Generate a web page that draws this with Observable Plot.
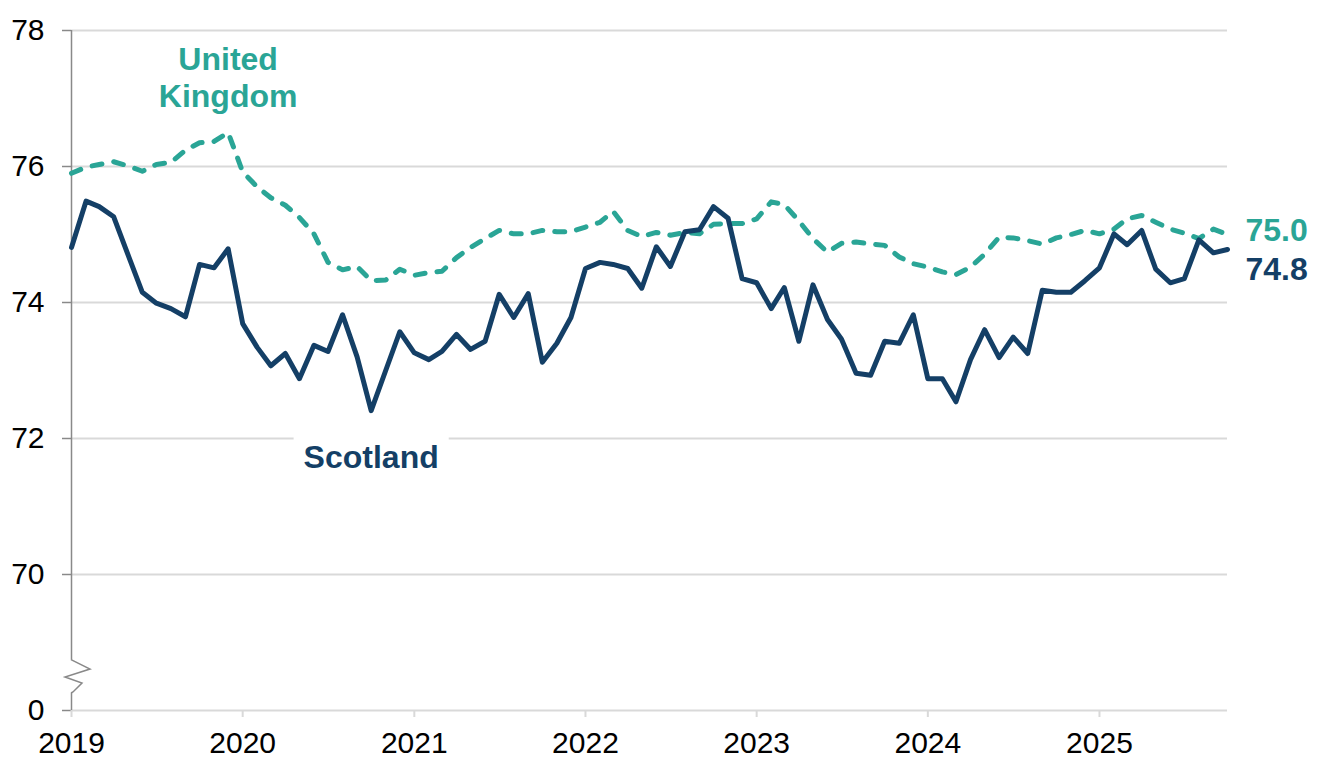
<!DOCTYPE html>
<html>
<head>
<meta charset="utf-8">
<script src="https://cdn.jsdelivr.net/npm/d3@7"></script>
<script src="https://cdn.jsdelivr.net/npm/@observablehq/plot@0.6"></script>
<style>
  html, body { margin: 0; padding: 0; background: #fff; }
  #chart svg { display: block; }
</style>
</head>
<body>
<div id="chart"></div>
<script>
// ---- Data (employment rate, %, monthly rolling figures Jan 2019 – Oct 2025) ----
const startMonth = "2019-01-01";
const endMonth = "2025-10-01";
const scotland = [
  74.81, 75.49, 75.41, 75.26, 74.71, 74.15, 73.99, 73.91, 73.79, 74.56, 74.51, 74.79,
  73.69, 73.34, 73.07, 73.25, 72.88, 73.37, 73.28, 73.82, 73.20, 72.41, 73.00, 73.57,
  73.26, 73.16, 73.28, 73.53, 73.31, 73.43, 74.12, 73.78, 74.13, 73.12, 73.40, 73.78,
  74.50, 74.59, 74.56, 74.50, 74.21, 74.82, 74.53, 75.04, 75.07, 75.41, 75.24, 74.35,
  74.29, 73.91, 74.22, 73.43, 74.26, 73.75, 73.46, 72.96, 72.93, 73.43, 73.40, 73.82,
  72.88, 72.88, 72.54, 73.16, 73.60, 73.19, 73.49, 73.25, 74.18, 74.15, 74.15, 74.32,
  74.51, 75.01, 74.85, 75.06, 74.49, 74.29, 74.35, 74.92, 74.73, 74.78
];
const unitedKingdom = [
  75.90, 75.99, 76.03, 76.07, 76.01, 75.93, 76.03, 76.06, 76.24, 76.35, 76.37, 76.50,
  75.92, 75.70, 75.54, 75.43, 75.25, 75.01, 74.59, 74.48, 74.53, 74.32, 74.33, 74.49,
  74.40, 74.44, 74.46, 74.66, 74.81, 74.94, 75.06, 75.01, 75.01, 75.06, 75.04, 75.04,
  75.11, 75.18, 75.34, 75.06, 74.97, 75.03, 74.99, 75.03, 75.01, 75.15, 75.16, 75.16,
  75.23, 75.48, 75.44, 75.20, 74.94, 74.74, 74.87, 74.89, 74.86, 74.84, 74.67, 74.57,
  74.52, 74.45, 74.41, 74.52, 74.71, 74.96, 74.95, 74.91, 74.86, 74.95, 75.00, 75.06,
  75.01, 75.08, 75.23, 75.28, 75.18, 75.08, 75.02, 74.94, 75.08, 75.00
];
const yearTicks = ["2019", "2020", "2021", "2022", "2023", "2024", "2025"];
const yTicks = [68, 70, 72, 74, 76, 78];
const yTickLabels = ["0", "70", "72", "74", "76", "78"];
const axisBreak = [68.25, 68.74];   // value range of the broken section of the y axis
const seriesLabels = [
  {series: "United Kingdom", text: "United\nKingdom", date: "2019-12-01", value: 77.32},
  {series: "Scotland", text: "Scotland", date: "2020-10-01", value: 71.74}
];

// ---- Build table ----
const months = d3.utcMonth.range(new Date(startMonth), d3.utcMonth.offset(new Date(endMonth), 1));
const rows = [];
months.forEach((d, i) => {
  rows.push({date: d, value: unitedKingdom[i], series: "United Kingdom"});
  rows.push({date: d, value: scotland[i], series: "Scotland"});
});
const colors = {"United Kingdom": "#2aa596", "Scotland": "#143f66"};
const lastDate = months[months.length - 1];
const ukEnd = [{date: lastDate, value: unitedKingdom[unitedKingdom.length - 1]}];
const scEnd = [{date: lastDate, value: scotland[scotland.length - 1]}];
const labelData = seriesLabels.map(d => ({...d, date: new Date(d.date)}));
const font = "'Liberation Sans', Arial, sans-serif";

const plot = Plot.plot({
  width: 1327,
  height: 760,
  marginLeft: 71,
  marginRight: 100,
  marginTop: 30,
  marginBottom: 50,
  style: {fontFamily: font, fontSize: "30px", color: "#000", background: "#fff"},
  x: {type: "utc", domain: [months[0], lastDate], label: null},
  y: {domain: [68, 78], label: null},
  marks: [
    Plot.gridY(yTicks, {stroke: "#d9d9d9", strokeOpacity: 1, strokeWidth: 2}),
    Plot.axisY(yTicks, {
      tickSize: 9, tickPadding: 18, stroke: "#898989", strokeWidth: 1.5, label: null,
      tickFormat: v => yTickLabels[yTicks.indexOf(v)], fontSize: 30
    }),
    Plot.axisX(yearTicks.map(y => new Date(y + "-01-01")), {
      tickSize: 7, tickPadding: 14, stroke: "#d9d9d9", strokeWidth: 2, label: null,
      tickFormat: d => d3.utcFormat("%Y")(d), fontSize: 30
    }),
    // y axis line with a break
    Plot.ruleX([months[0]], {y1: axisBreak[1], y2: 78, stroke: "#898989", strokeWidth: 1.5}),
    Plot.ruleX([months[0]], {y1: 68, y2: axisBreak[0], stroke: "#898989", strokeWidth: 1.5}),
    Plot.line(rows.filter(d => d.series === "United Kingdom"), {
      x: "date", y: "value", stroke: colors["United Kingdom"], strokeWidth: 5,
      strokeDasharray: "10 12", strokeLinecap: "round", strokeLinejoin: "round"
    }),
    Plot.line(rows.filter(d => d.series === "Scotland"), {
      x: "date", y: "value", stroke: colors["Scotland"], strokeWidth: 5,
      strokeLinejoin: "round"
    }),
    Plot.text(labelData, {
      x: "date", y: "value", text: "text", fill: d => colors[d.series],
      fontSize: 32, fontWeight: "bold", lineHeight: 1.15, lineAnchor: "middle", textAnchor: "middle"
    }),
    Plot.text(ukEnd, {
      x: "date", y: "value", text: d => d3.format(".1f")(d.value), fill: colors["United Kingdom"],
      fontSize: 32, fontWeight: "bold", textAnchor: "start", lineAnchor: "middle", dx: 18, dy: -4
    }),
    Plot.text(scEnd, {
      x: "date", y: "value", text: d => d3.format(".1f")(d.value), fill: colors["Scotland"],
      fontSize: 32, fontWeight: "bold", textAnchor: "start", lineAnchor: "middle", dx: 18, dy: 20
    })
  ]
});

document.getElementById("chart").appendChild(plot);
const svg = d3.select(plot);

// white box behind the Scotland label
svg.selectAll("text").each(function() {
  if (this.textContent === "Scotland") {
    const b = this.getBBox();
    const tr = this.getAttribute("transform") || "";
    d3.select(this.parentNode).insert("rect", () => this)
      .attr("x", b.x - 10).attr("y", b.y - 6)
      .attr("width", b.width + 20).attr("height", b.height + 12)
      .attr("fill", "#fff").attr("transform", tr);
  }
});

// axis-break zigzag
const xs = plot.scale("x"), ys = plot.scale("y");
const x0 = xs.apply(months[0]);
const yTop = ys.apply(axisBreak[1]), yBot = ys.apply(axisBreak[0]);
const h = yBot - yTop;
svg.append("path")
  .attr("d", `M${x0},${yTop} L${x0 + 19},${yTop + h * 0.28} L${x0 - 6},${yTop + h * 0.52} L${x0 + 11},${yTop + h * 0.7} L${x0 + 2},${yTop + h * 0.97} L${x0},${yBot}`)
  .attr("fill", "none").attr("stroke", "#898989").attr("stroke-width", 1.5);
</script>
</body>
</html>
